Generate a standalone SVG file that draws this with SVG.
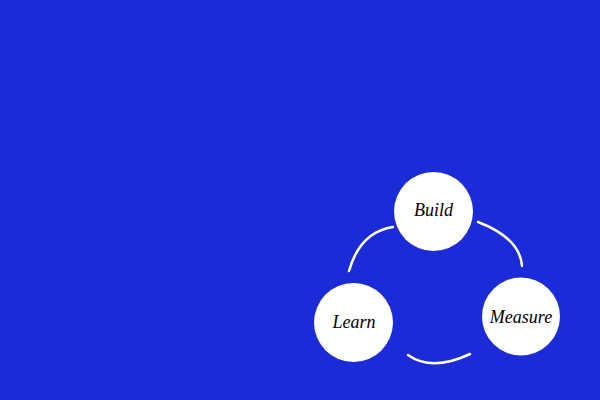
<svg xmlns="http://www.w3.org/2000/svg" width="600" height="400" viewBox="0 0 600 400">
<style>
.node circle{fill:#ffffff}
.node text{font-family:"Liberation Serif","DejaVu Serif",serif;font-style:italic;font-size:18px;fill:#000;text-anchor:middle}
.arc{fill:none;stroke:#ffffff;stroke-width:2.5;stroke-linecap:round}
</style>
<rect width="600" height="400" fill="#1b2bd8"/>
<g id="connectors">
<path class="arc" d="M349,271 Q360,232 393,227"/>
<path class="arc" d="M478,222 Q520,238 522,266"/>
<path class="arc" d="M408,355 Q432,372 470,354"/>
</g>
<g id="build" class="node"><circle cx="433.5" cy="211.5" r="39.5"/><text x="433.5" y="216">Build</text></g>
<g id="measure" class="node"><circle cx="521" cy="316.5" r="39"/><text x="521" y="323">Measure</text></g>
<g id="learn" class="node"><circle cx="353.5" cy="322.5" r="39.5"/><text x="354" y="328">Learn</text></g>
</svg>
